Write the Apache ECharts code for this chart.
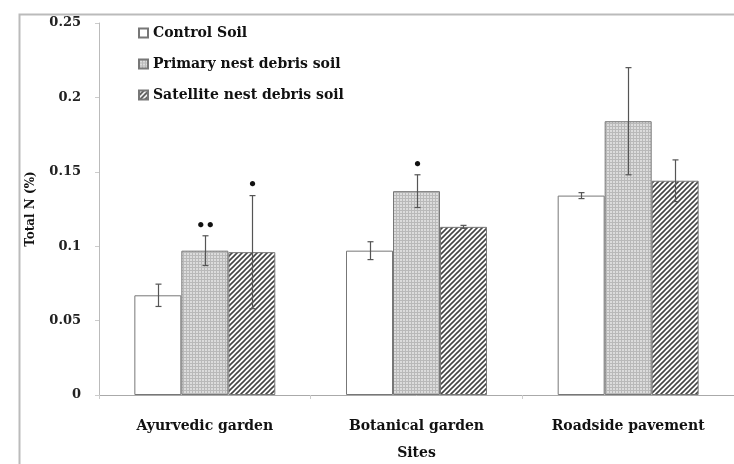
<!DOCTYPE html>
<html>
<head>
<meta charset="utf-8">
<script src="https://cdn.jsdelivr.net/npm/echarts@6/dist/echarts.min.js"></script>
<style>
  html, body { margin: 0; padding: 0; background: #fff; }
  #chart { width: 734px; height: 464px; }
</style>
</head>
<body>
<div id="chart"></div>
<script>
const sites = ['Ayurvedic garden', 'Botanical garden', 'Roadside pavement'];
const seriesNames = ['Control Soil', 'Primary nest debris soil', 'Satellite nest debris soil'];
const controlVals = [0.067, 0.097, 0.134];
const primaryVals = [0.097, 0.137, 0.184];
const satelliteVals = [0.096, 0.113, 0.144];
const controlErr = [0.0075, 0.006, 0.002];
const primaryErr = [0.010, 0.011, 0.036];
const satelliteErr = [0.038, 0.001, 0.014];
const primaryMarks = ['••', '•', ''];
const satelliteMarks = ['•', '', ''];

const fontFam = '"DejaVu Serif", "Liberation Serif", serif';

// fill patterns
const makePattern = (draw, size) => {
  const c = document.createElement('canvas');
  c.width = size;
  c.height = size;
  draw(c.getContext('2d'), size);
  return { image: c, repeat: 'repeat' };
};

const gridPattern = makePattern((ctx, s) => {
  ctx.fillStyle = '#dcdcdc';
  ctx.fillRect(0, 0, s, s);
  ctx.fillStyle = '#b9b9b9';
  ctx.fillRect(0, 0, s, 1);
  ctx.fillRect(0, 0, 1, s);
}, 3);

const hatchPattern = makePattern((ctx, s) => {
  ctx.fillStyle = '#ffffff';
  ctx.fillRect(0, 0, s, s);
  ctx.strokeStyle = '#444';
  ctx.lineWidth = 1.6;
  ctx.beginPath();
  ctx.moveTo(0, s); ctx.lineTo(s, 0);
  ctx.moveTo(-s / 2, s / 2); ctx.lineTo(s / 2, -s / 2);
  ctx.moveTo(s / 2, s * 1.5); ctx.lineTo(s * 1.5, s / 2);
  ctx.stroke();
}, 5);

const BAR_FRAC = 0.222;

const errSeries = (vals, errs, marks, idx) => ({
  type: 'custom',
  silent: true,
  z: 5,
  data: vals.map((v, i) => [i, v - errs[i], v + errs[i]]),
  renderItem: (params, api) => {
    const band = api.size([1, 0])[0];
    const off = (idx - 1) * band * BAR_FRAC;
    const lo = api.coord([api.value(0), api.value(1)]);
    const hi = api.coord([api.value(0), api.value(2)]);
    const x = Math.round(lo[0] + off) + 0.5;
    const cap = 3;
    const st = { stroke: '#555', lineWidth: 1.2 };
    const children = [
      { type: 'line', shape: { x1: x, y1: lo[1], x2: x, y2: hi[1] }, style: st },
      { type: 'line', shape: { x1: x - cap, y1: lo[1], x2: x + cap, y2: lo[1] }, style: st },
      { type: 'line', shape: { x1: x - cap, y1: hi[1], x2: x + cap, y2: hi[1] }, style: st },
    ];
    const mark = marks[params.dataIndex];
    if (mark) {
      children.push({
        type: 'text',
        style: {
          x: x, y: hi[1] - 10, text: mark, fill: '#111',
          font: 'bold 15px ' + fontFam, align: 'center', verticalAlign: 'middle',
        },
      });
    }
    return { type: 'group', children };
  },
});

const barStyle = (color) => ({
  color: color,
  borderColor: '#777',
  borderWidth: 1,
});

const labelFont = { fontFamily: fontFam, fontWeight: 'bold', color: '#111' };

const option = {
  animation: false,
  backgroundColor: '#fff',
  graphic: [{
    type: 'rect',
    left: 17,
    top: 12,
    shape: { width: 740, height: 470 },
    style: { fill: 'none', stroke: '#bbb', lineWidth: 2 },
    silent: true,
  }],
  legend: {
    orient: 'vertical',
    left: 133,
    top: 21,
    itemWidth: 9,
    itemHeight: 9,
    itemGap: 17,
    icon: 'rect',
    data: seriesNames,
    textStyle: { ...labelFont, fontSize: 14, lineHeight: 14 },
  },
  grid: { left: 99, right: 0, top: 23, bottom: 69, containLabel: false, outerBoundsMode: 'none' },
  xAxis: {
    type: 'category',
    data: sites,
    name: 'Sites',
    nameLocation: 'middle',
    nameGap: 51,
    nameTextStyle: { ...labelFont, fontSize: 14 },
    axisLine: { lineStyle: { color: '#aaa' } },
    axisTick: { show: true, length: 4, lineStyle: { color: '#ccc' } },
    axisLabel: { ...labelFont, fontSize: 14, margin: 24 },
  },
  yAxis: {
    type: 'value',
    min: 0,
    max: 0.25,
    interval: 0.05,
    name: 'Total N (%)',
    nameLocation: 'middle',
    nameGap: 62,
    nameTextStyle: { ...labelFont, fontSize: 12 },
    splitLine: { show: false },
    axisLine: { show: true, lineStyle: { color: '#bbb' } },
    axisTick: { show: true, length: 4, lineStyle: { color: '#ccc' } },
    axisLabel: { ...labelFont, fontSize: 13, color: '#222', margin: 18 },
  },
  series: [
    { name: seriesNames[0], type: 'bar', data: controlVals, barWidth: (BAR_FRAC * 100) + '%', barGap: '0%', itemStyle: barStyle('#ffffff') },
    { name: seriesNames[1], type: 'bar', data: primaryVals, barWidth: (BAR_FRAC * 100) + '%', barGap: '0%', itemStyle: barStyle(gridPattern) },
    { name: seriesNames[2], type: 'bar', data: satelliteVals, barWidth: (BAR_FRAC * 100) + '%', barGap: '0%', itemStyle: barStyle(hatchPattern) },
    errSeries(controlVals, controlErr, ['', '', ''], 0),
    errSeries(primaryVals, primaryErr, primaryMarks, 1),
    errSeries(satelliteVals, satelliteErr, satelliteMarks, 2),
  ],
};

const chart = echarts.init(document.getElementById('chart'));
chart.setOption(option);
</script>
</body>
</html>
